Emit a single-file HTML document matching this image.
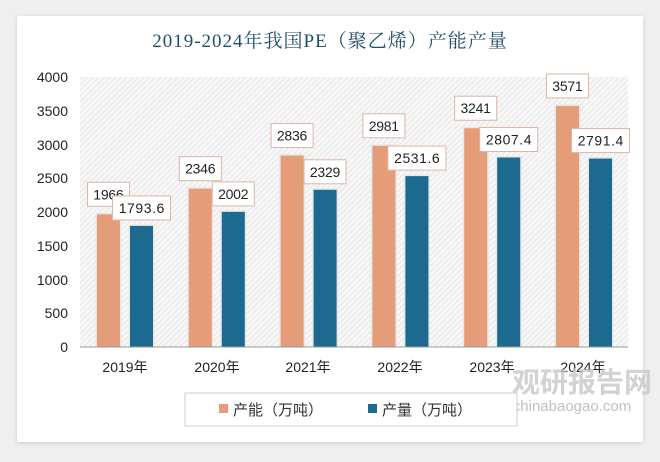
<!DOCTYPE html>
<html><head><meta charset="utf-8"><style>
body{margin:0;width:660px;height:457px;background:#efefef;overflow:hidden;font-family:"Liberation Sans","Noto Sans CJK SC",sans-serif}
</style></head><body>
<svg width="660" height="457" xmlns="http://www.w3.org/2000/svg">
<defs>
<pattern id="h" width="4" height="4" patternUnits="userSpaceOnUse" patternTransform="rotate(45)">
<rect width="4" height="4" fill="#f7f7f7"/><rect width="1" height="4" fill="#e6e6e6"/></pattern>
<filter id="s"><feDropShadow dx="0" dy="1" stdDeviation="2" flood-color="#000" flood-opacity="0.15"/></filter>
</defs>
<rect x="17" y="16" width="626" height="426" fill="#fff" filter="url(#s)"/>
<text x="330" y="47" text-anchor="middle" font-family="'Liberation Serif','Noto Serif CJK SC',serif" font-size="19" fill="#1f4e6b" letter-spacing="1">2019-2024年我国PE（聚乙烯）产能产量</text>
<rect x="80" y="77" width="548" height="270" fill="url(#h)"/>
<g font-size="14" fill="#222" text-anchor="end">
<text x="68" y="82">4000</text><text x="68" y="116">3500</text><text x="68" y="150">3000</text><text x="68" y="183">2500</text><text x="68" y="217">2000</text><text x="68" y="251">1500</text><text x="68" y="285">1000</text><text x="68" y="318">500</text><text x="68" y="352">0</text>
</g>
<g id="bars"></g>
<line x1="80" y1="347" x2="628" y2="347" stroke="#999" stroke-width="1"/>
<g font-size="14" fill="#222" text-anchor="middle">
<text x="125" y="372">2019年</text><text x="217" y="372">2020年</text><text x="308" y="372">2021年</text><text x="400" y="372">2022年</text><text x="492" y="372">2023年</text><text x="583" y="372">2024年</text>
</g>
<text x="582" y="392" text-anchor="middle" font-size="28" font-weight="bold" fill="#c8c8c8" opacity="0.8">观研报告网</text>
<text x="572" y="411" text-anchor="middle" font-size="15" fill="#c0c0c0">chinabaogao.com</text>
<rect x="185" y="393" width="332" height="33" fill="#fff" stroke="#ccc" opacity="0.95"/>
<rect x="219" y="404" width="9" height="9" fill="#e59c79"/>
<text x="233" y="415" font-size="15" fill="#333">产能（万吨）</text>
<rect x="368" y="404" width="9" height="9" fill="#1c6a8f"/>
<text x="382" y="415" font-size="15" fill="#333">产量（万吨）</text>
</svg>
<script>
var o=[1966,2346,2836,2981,3241,3571],b=[1793.6,2002,2329,2531.6,2807.4,2791.4];
var g=document.getElementById('bars'),s='';
function lab(cx,top,t){var w=t.length*8+10;s+='<rect x="'+(cx-w/2)+'" y="'+(top-32)+'" width="'+w+'" height="24" fill="#fff" stroke="#d9b8a8" stroke-width="1"/><text x="'+cx+'" y="'+(top-15)+'" text-anchor="middle" font-size="14" fill="#222" textLength="'+(t.length*7.6)+'">'+t+'</text>';}
for(var i=0;i<6;i++){var x=97+i*91.8;
var to=347-o[i]*0.0675,tb=347-b[i]*0.0675;
s+='<rect x="'+(x-1.5)+'" y="'+(to-1.5)+'" width="26" height="'+(347-to+1.5)+'" fill="#e8e8e8"/><rect x="'+x+'" y="'+to+'" width="23" height="'+(347-to)+'" fill="#e59c79"/>';
s+='<rect x="'+(x+31.5)+'" y="'+(tb-1.5)+'" width="26" height="'+(347-tb+1.5)+'" fill="#e8e8e8"/><rect x="'+(x+33)+'" y="'+tb+'" width="23" height="'+(347-tb)+'" fill="#1c6a8f"/>';}
for(var i=0;i<6;i++){var x=97+i*91.8;lab(x+11.5,347-o[i]*0.0675,String(o[i]));lab(x+44.5,347-b[i]*0.0675+2,String(b[i]));}
g.innerHTML=s;
</script>
</body></html>
